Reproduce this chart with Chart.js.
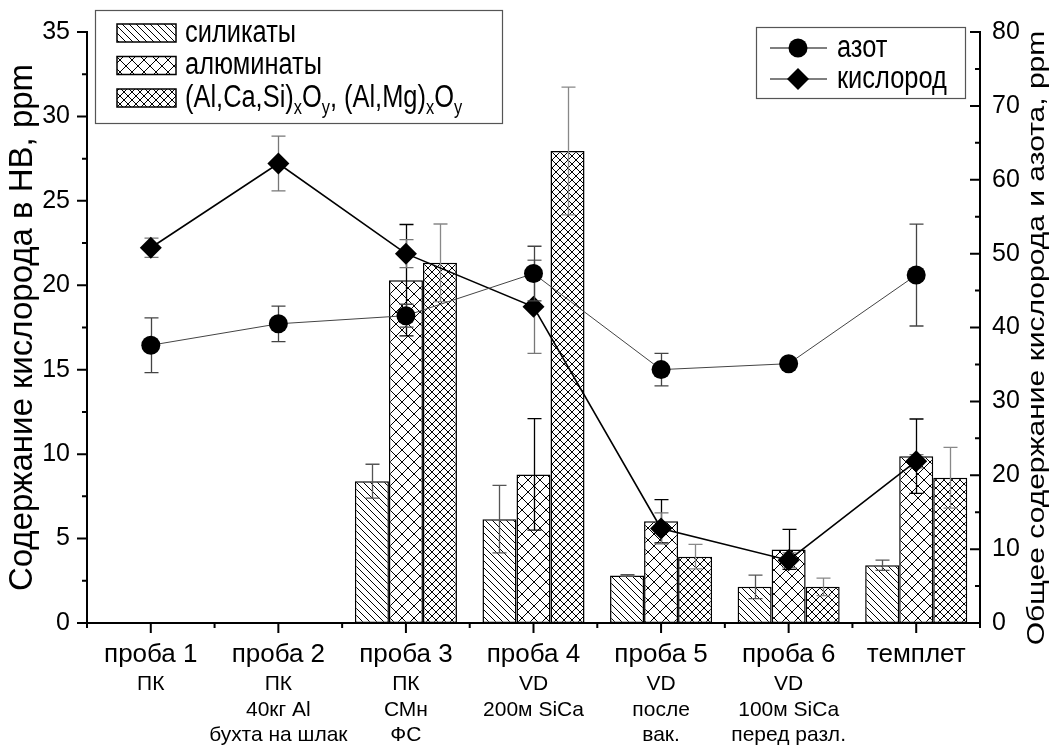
<!DOCTYPE html>
<html>
<head>
<meta charset="utf-8">
<script src="https://cdn.jsdelivr.net/npm/chart.js@4.4.1/dist/chart.umd.min.js"></script>
<style>
  html, body { margin: 0; padding: 0; background: #fff; }
  #wrap { width: 1054px; height: 749px; }
</style>
</head>
<body>
<div id="wrap"><canvas id="chart" width="1054" height="749"></canvas></div>
<script>
// Категории и подписи
const categories = ['проба 1', 'проба 2', 'проба 3', 'проба 4', 'проба 5', 'проба 6', 'темплет'];
const subLabels = [
    ['ПК'],
    ['ПК', '40кг Al', 'бухта на шлак'],
    ['ПК', 'СМн', 'ФС'],
    ['VD', '200м SiCa'],
    ['VD', 'после', 'вак.'],
    ['VD', '100м SiCa', 'перед разл.'],
    ['']
];

// Содержание кислорода в НВ (левая ось)
const silicates = [null, null, 8.4, 6.15, 2.82, 2.14, 3.42];
const silicatesErr = [0, 0, 1.0, 2.0, 0.05, 0.7, 0.3];
const aluminates = [null, null, 20.3, 8.8, 6.03, 4.36, 9.88];
const aluminatesErr = [0, 0, 3.3, 3.3, 1.28, 1.18, 2.2];
const complexOx = [null, null, 21.33, 27.95, 3.93, 2.14, 8.6];
const complexOxErr = [0, 0, 2.3, 3.78, 0.73, 0.52, 1.8];

// Общее содержание (правая ось)
const nitrogen = [37.6, 40.5, 41.6, 47.3, 34.3, 35.1, 47.1];
const nitrogenErr = [3.7, 2.4, 1.55, 3.7, 2.2, 0, 6.9];
const oxygen = [50.8, 62.2, 50.0, 42.8, 12.8, 8.5, 21.9];
const oxygenErr = [1.3, 3.7, 1.9, 6.3, 2.1, 1.0, 0.9];

const leftTicks = [0, 5, 10, 15, 20, 25, 30, 35];
const rightTicks = [0, 10, 20, 30, 40, 50, 60, 70, 80];

const FONT = '"Liberation Sans", Arial, sans-serif';
const SQ = 0.82; // узкий шрифт, как в оригинале

// штриховки
function hatch(p, dirs, lw) {
    const c = document.createElement('canvas');
    c.width = p; c.height = p;
    const g = c.getContext('2d');
    g.fillStyle = '#fff';
    g.fillRect(0, 0, p, p);
    g.strokeStyle = '#000';
    g.lineWidth = lw;
    g.beginPath();
    for (let k = -1; k <= 1; k++) {
        if (dirs.includes('\\')) { g.moveTo(k * p, 0); g.lineTo(k * p + p, p); }
        if (dirs.includes('/')) { g.moveTo(k * p, p); g.lineTo(k * p + p, 0); }
    }
    g.stroke();
    return g.createPattern(c, 'repeat');
}
const patSil = hatch(7, '\\', 1);
const patAl = hatch(12, '\\/', 1);
const patCx = hatch(8, '\\/', 1);

function drawErr(chart, index) {
    const ds = chart.data.datasets[index];
    if (!ds.errSize) return;
    const meta = chart.getDatasetMeta(index);
    const ys = chart.scales[ds.yAxisID];
    const ctx = chart.ctx;
    ctx.save();
    ctx.strokeStyle = ds.errColor;
    ctx.lineWidth = 1.3;
    meta.data.forEach((el, j) => {
        const v = ds.data[j];
        const e = ds.errSize[j];
        if (v == null || !e) return;
        const x = Math.round(el.x) + 0.5;
        const yt = ys.getPixelForValue(v + e);
        const yb = ys.getPixelForValue(v - e);
        ctx.beginPath();
        ctx.moveTo(x, yt); ctx.lineTo(x, yb);
        ctx.moveTo(x - 7, yt); ctx.lineTo(x + 7, yt);
        ctx.moveTo(x - 7, yb); ctx.lineTo(x + 7, yb);
        ctx.stroke();
    });
    ctx.restore();
}

const errorBars = {
    id: 'errorBars',
    beforeDatasetDraw(chart, args) {
        if (chart.data.datasets[args.index].type === 'line') drawErr(chart, args.index);
    },
    afterDatasetDraw(chart, args) {
        if (chart.data.datasets[args.index].type !== 'line') drawErr(chart, args.index);
    }
};

// узкий текст
function sqText(ctx, text, x, y, size) {
    ctx.save();
    ctx.font = size + 'px ' + FONT;
    ctx.translate(x, y);
    ctx.scale(SQ, 1);
    ctx.fillText(text, 0, 0);
    const w = ctx.measureText(text).width * SQ;
    ctx.restore();
    return w;
}

const axisTicks = {
    id: 'axisTicks',
    afterDraw(chart) {
        const { ctx, chartArea: a, scales } = chart;
        ctx.save();
        ctx.strokeStyle = '#000';
        ctx.lineWidth = 2;
        ctx.beginPath();
        const lStep = leftTicks[1] - leftTicks[0];
        for (let v = leftTicks[0]; v <= leftTicks[leftTicks.length - 1] + 1e-9; v += lStep / 2) {
            const y = scales.y.getPixelForValue(v);
            const major = Math.abs(v / lStep - Math.round(v / lStep)) < 1e-6;
            ctx.moveTo(a.left - (major ? 10 : 5), y); ctx.lineTo(a.left, y);
        }
        const rStep = rightTicks[1] - rightTicks[0];
        for (let v = rightTicks[0]; v <= rightTicks[rightTicks.length - 1] + 1e-9; v += rStep / 2) {
            const y = scales.y2.getPixelForValue(v);
            const major = Math.abs(v / rStep - Math.round(v / rStep)) < 1e-6;
            ctx.moveTo(a.right - (major ? 10 : 5), y); ctx.lineTo(a.right, y);
        }
        categories.forEach((c, i) => {
            const x = scales.x.getPixelForValue(i);
            ctx.moveTo(x, a.bottom); ctx.lineTo(x, a.bottom + 10);
        });
        for (let i = 0; i <= categories.length; i++) {
            const x = scales.x.getPixelForValue(i - 0.5);
            ctx.moveTo(x, a.bottom); ctx.lineTo(x, a.bottom + 5);
        }
        ctx.stroke();

        // правая подпись оси
        ctx.fillStyle = '#000';
        ctx.font = '30px ' + FONT;
        ctx.textAlign = 'center';
        ctx.textBaseline = 'middle';
        ctx.translate(1037, 338);
        ctx.rotate(-Math.PI / 2);
        ctx.scale(1, SQ);
        ctx.fillText('Общее содержание кислорода и азота, ppm', 0, 0);
        ctx.restore();
    }
};

const legends = {
    id: 'legends',
    afterDraw(chart) {
        const ctx = chart.ctx;
        ctx.save();
        ctx.fillStyle = '#fff';
        ctx.strokeStyle = '#555';
        ctx.lineWidth = 1.2;
        ctx.fillRect(95, 10, 407, 113);
        ctx.strokeRect(95.5, 10.5, 407, 113);
        const rows = [33, 65.5, 98];
        const pats = [patSil, patAl, patCx];
        rows.forEach((y, i) => {
            ctx.fillStyle = pats[i];
            ctx.fillRect(117, y - 9, 59, 18);
            ctx.strokeStyle = '#000';
            ctx.lineWidth = 1.5;
            ctx.strokeRect(117, y - 9, 59, 18);
        });
        ctx.fillStyle = '#000';
        ctx.textBaseline = 'middle';
        ctx.textAlign = 'left';
        sqText(ctx, 'силикаты', 185, rows[0], 31);
        sqText(ctx, 'алюминаты', 185, rows[1], 31);
        let x = 185;
        [['(Al,Ca,Si)', 0], ['x', 1], ['O', 0], ['y', 1], [', (Al,Mg)', 0], ['x', 1], ['O', 0], ['y', 1]].forEach(([t, sub]) => {
            x += sqText(ctx, t, x, rows[2] + (sub ? 10 : 0), sub ? 20 : 31);
        });

        // вторая легенда
        ctx.fillStyle = '#fff';
        ctx.fillRect(756, 27, 209, 71);
        ctx.strokeStyle = '#555';
        ctx.lineWidth = 1.2;
        ctx.strokeRect(756.5, 27.5, 209, 71);
        const r2 = [48, 79];
        ctx.strokeStyle = '#000';
        ctx.lineWidth = 1.2;
        r2.forEach(y => {
            ctx.beginPath(); ctx.moveTo(770, y); ctx.lineTo(827, y); ctx.stroke();
        });
        ctx.fillStyle = '#000';
        ctx.beginPath(); ctx.arc(798, r2[0], 9.5, 0, Math.PI * 2); ctx.fill();
        ctx.beginPath();
        ctx.moveTo(798, r2[1] - 11); ctx.lineTo(809, r2[1]); ctx.lineTo(798, r2[1] + 11); ctx.lineTo(787, r2[1]);
        ctx.closePath(); ctx.fill();
        sqText(ctx, 'азот', 837, r2[0], 31);
        sqText(ctx, 'кислород', 837, r2[1], 31);
        ctx.restore();
    }
};

const barCommon = {
    type: 'bar',
    xAxisID: 'x',
    yAxisID: 'y',
    borderColor: '#000',
    borderWidth: 1.5,
    borderSkipped: false,
    categoryPercentage: 0.8,
    barPercentage: 1.0,
    order: 2
};

new Chart(document.getElementById('chart'), {
    type: 'bar',
    data: {
        labels: categories,
        datasets: [
            Object.assign({}, barCommon, { label: 'силикаты', data: silicates, errSize: silicatesErr, errColor: '#555', backgroundColor: patSil }),
            Object.assign({}, barCommon, { label: 'алюминаты', data: aluminates, errSize: aluminatesErr, errColor: '#000', backgroundColor: patAl }),
            Object.assign({}, barCommon, { label: '(Al,Ca,Si)xOy, (Al,Mg)xOy', data: complexOx, errSize: complexOxErr, errColor: '#888', backgroundColor: patCx }),
            {
                type: 'line', label: 'азот', data: nitrogen, errSize: nitrogenErr, errColor: '#444',
                xAxisID: 'x', yAxisID: 'y2', borderColor: '#444', borderWidth: 1, pointStyle: 'circle',
                pointRadius: 9.5, pointBackgroundColor: '#000', pointBorderColor: '#000', pointBorderWidth: 0, order: 1
            },
            {
                type: 'line', label: 'кислород', data: oxygen, errSize: oxygenErr, errColor: '#777',
                xAxisID: 'x', yAxisID: 'y2', borderColor: '#000', borderWidth: 1.6, pointStyle: 'rectRot',
                pointRadius: 11, pointBackgroundColor: '#000', pointBorderColor: '#000', pointBorderWidth: 0, order: 1
            }
        ]
    },
    options: {
        responsive: false,
        animation: false,
        devicePixelRatio: 1,
        events: [],
        layout: { padding: { top: 24, left: 0, right: 0, bottom: 0 } },
        plugins: { legend: { display: false }, tooltip: { enabled: false } },
        scales: {
            x: {
                type: 'category',
                labels: categories,
                offset: true,
                grid: { display: false, drawTicks: false },
                border: { display: true, color: '#000', width: 2 },
                ticks: { color: '#000', font: { family: FONT, size: 26 }, padding: 16, autoSkip: false, maxRotation: 0 },
                afterFit(s) { s.height = 47; }
            },
            x2: {
                type: 'category',
                position: 'bottom',
                labels: subLabels,
                offset: true,
                grid: { display: false, drawTicks: false },
                border: { display: false },
                ticks: { color: '#000', font: { family: FONT, size: 21, lineHeight: 1.2 }, padding: 2, autoSkip: false, maxRotation: 0 },
                afterFit(s) { s.height = 79; }
            },
            y: {
                position: 'left',
                min: leftTicks[0],
                max: leftTicks[leftTicks.length - 1],
                afterBuildTicks(s) { s.ticks = leftTicks.map(v => ({ value: v })); },
                grid: { display: false, drawTicks: false },
                border: { display: true, color: '#000', width: 2 },
                ticks: { color: '#000', font: { family: FONT, size: 25 }, padding: 17 },
                title: { display: true, text: 'Содержание кислорода в НВ, ppm', color: '#000', font: { family: FONT, size: 33, lineHeight: 1.0 }, padding: { top: 6, bottom: 0 } },
                afterFit(s) { s.width = 87; }
            },
            y2: {
                position: 'right',
                min: rightTicks[0],
                max: rightTicks[rightTicks.length - 1],
                afterBuildTicks(s) { s.ticks = rightTicks.map(v => ({ value: v })); },
                grid: { display: false, drawTicks: false },
                border: { display: true, color: '#000', width: 2 },
                ticks: { color: '#000', font: { family: FONT, size: 25 }, padding: 12 },
                afterFit(s) { s.width = 74; }
            }
        }
    },
    plugins: [errorBars, axisTicks, legends]
});
</script>
</body>
</html>
